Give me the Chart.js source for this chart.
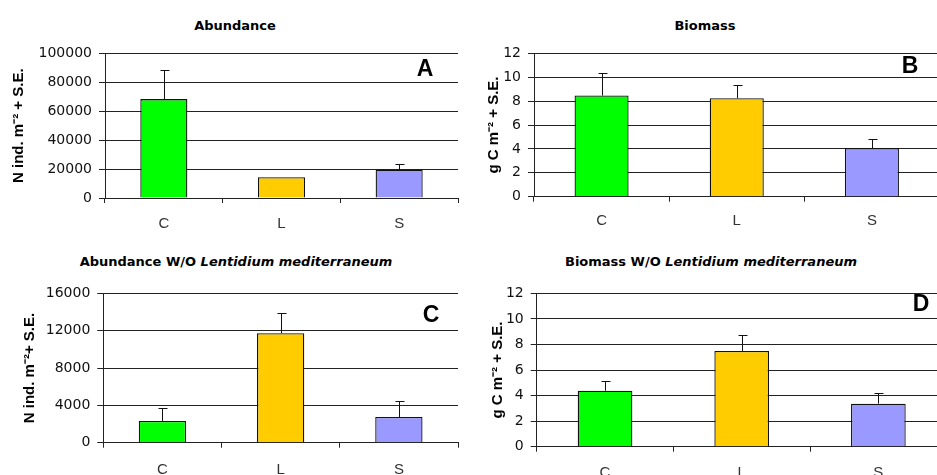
<!DOCTYPE html>
<html>
<head>
<meta charset="utf-8">
<script src="https://cdn.jsdelivr.net/npm/chart.js@4.4.1/dist/chart.umd.min.js"></script>
<style>
html, body { margin: 0; padding: 0; background: #fff; overflow: hidden; }
#wrap { position: relative; width: 937px; height: 475px; overflow: hidden; }
.panel { position: absolute; }
.title { position: absolute; transform: translate(-50%, -50%); white-space: nowrap;
         font: bold 13px "DejaVu Sans"; color: #000; }
.tag { position: absolute; transform: translate(-50%, -50%); font: bold 23px "Liberation Sans"; color: #000; }
</style>
</head>
<body>
<div id="wrap">
  <div class="title" style="left:235px;top:25px">Abundance</div>
  <div class="title" style="left:705px;top:25px">Biomass</div>
  <div class="title" style="left:236px;top:261px">Abundance W/O <i>Lentidium mediterraneum</i></div>
  <div class="title" style="left:711px;top:261px">Biomass W/O <i>Lentidium mediterraneum</i></div>

  <div class="panel" style="left:0px;top:38px;width:470px;height:200px"><canvas id="chartA"></canvas></div>
  <div class="panel" style="left:470px;top:38px;width:470px;height:200px"><canvas id="chartB"></canvas></div>
  <div class="panel" style="left:0px;top:278px;width:470px;height:197px"><canvas id="chartC"></canvas></div>
  <div class="panel" style="left:470px;top:278px;width:477px;height:197px"><canvas id="chartD"></canvas></div>

  <div class="tag" style="left:425px;top:68px">A</div>
  <div class="tag" style="left:910px;top:65px">B</div>
  <div class="tag" style="left:431px;top:314px">C</div>
  <div class="tag" style="left:921px;top:303px">D</div>
</div>
<script>
// --- Data ---
const categories = ['C', 'L', 'S'];
const barColors = ['#00FF00', '#FFCC00', '#9999FF'];

const abundance = [68400, 14400, 19500];
const abundanceSE = [20000, 0, 3800];

const biomass = [8.47, 8.25, 4.07];
const biomassSE = [1.85, 1.1, 0.78];

const abundanceWO = [2330, 11730, 2750];
const abundanceWOSE = [1380, 2220, 1770];

const biomassWO = [4.38, 7.5, 3.37];
const biomassWOSE = [0.75, 1.23, 0.83];

// --- Error bars (one-sided, + S.E.) ---
const errorBars = {
    id: 'errorBars',
    afterDatasetsDraw(chart) {
        const ctx = chart.ctx;
        const ds = chart.data.datasets[0];
        const yScale = chart.scales.y;
        ctx.save();
        ctx.strokeStyle = '#111';
        ctx.lineWidth = 1;
        chart.getDatasetMeta(0).data.forEach((bar, i) => {
            const se = ds.errors[i];
            if (!se) return;
            const x = Math.round(bar.x) + 0.5;
            const yTop = Math.round(yScale.getPixelForValue(ds.data[i] + se)) + 0.5;
            ctx.beginPath();
            ctx.moveTo(x, bar.y);
            ctx.lineTo(x, yTop);
            ctx.moveTo(x - 4, yTop);
            ctx.lineTo(x + 5, yTop);
            ctx.stroke();
        });
        ctx.restore();
    }
};

function makePanel(id, values, errors, yMax, yStep, yTitle, box) {
    const ctx = document.getElementById(id).getContext('2d');
    return new Chart(ctx, {
        type: 'bar',
        data: {
            labels: categories,
            datasets: [{
                data: values,
                errors: errors,
                backgroundColor: barColors,
                borderColor: '#111',
                borderWidth: 1.3,
                barPercentage: 0.4,
                categoryPercentage: 1
            }]
        },
        options: {
            responsive: true,
            maintainAspectRatio: false,
            animation: false,
            layout: { padding: { top: box.top, right: box.right, left: 0, bottom: 0 } },
            plugins: { legend: { display: false }, tooltip: { enabled: false } },
            scales: {
                x: {
                    grid: { offset: true, drawOnChartArea: false, tickLength: 5, color: '#222' },
                    border: { color: '#222' },
                    ticks: { color: '#333', padding: box.xPad, font: { family: 'Liberation Sans', size: 15 } },
                    afterFit: (s) => { s.height = box.xHeight; }
                },
                y: {
                    min: 0,
                    max: yMax,
                    grid: { color: '#222', tickLength: 6 },
                    border: { color: '#222' },
                    ticks: {
                        stepSize: yStep,
                        padding: 7,
                        color: '#111',
                        font: { family: 'DejaVu Sans', size: 14 },
                        callback: (v) => String(v)
                    },
                    title: {
                        display: true,
                        text: yTitle,
                        color: '#000',
                        padding: { top: box.titlePad, bottom: 0 },
                        font: { family: 'Liberation Sans', size: 15, weight: 'bold' }
                    },
                    afterFit: (s) => { s.width = box.yWidth; }
                }
            }
        },
        plugins: [errorBars]
    });
}

makePanel('chartA', abundance, abundanceSE, 100000, 20000, 'N ind. m⁻² + S.E.',
    { top: 12.7, right: 12, yWidth: 105, xHeight: 40, xPad: 11.5, titlePad: 10 });
makePanel('chartB', biomass, biomassSE, 12, 2, 'g C m⁻² + S.E.',
    { top: 10.3, right: 0.5, yWidth: 64, xHeight: 41.3, xPad: 10, titlePad: 15 });
makePanel('chartC', abundanceWO, abundanceWOSE, 16000, 4000, 'N ind. m⁻²+ S.E.',
    { top: 11, right: 12, yWidth: 103.3, xHeight: 32.3, xPad: 13, titlePad: 21 });
makePanel('chartD', biomassWO, biomassWOSE, 12, 2, 'g C m⁻² + S.E.',
    { top: 9.7, right: 0.3, yWidth: 66.7, xHeight: 28.3, xPad: 12, titlePad: 18.5 });
</script>
</body>
</html>
